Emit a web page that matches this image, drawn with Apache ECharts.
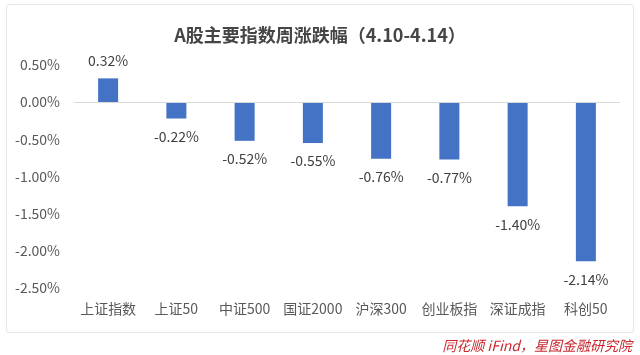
<!DOCTYPE html>
<html>
<head>
<meta charset="utf-8">
<script src="https://cdn.jsdelivr.net/npm/echarts@6/dist/echarts.min.js"></script>
<style>
  html, body { margin: 0; padding: 0; background: #ffffff; }
  #card {
    position: absolute; left: 6px; top: 4px; width: 626px; height: 327px;
    border: 1px solid #e6e6e6; border-radius: 3px; background: #ffffff;
  }
  #chart { position: absolute; left: 0; top: 0; width: 640px; height: 355px; }
</style>
</head>
<body>
<div id="card"></div>
<div id="chart"></div>
<script>
  const categories = ['上证指数', '上证50', '中证500', '国证2000', '沪深300', '创业板指', '深证成指', '科创50']
  const changes = [0.32, -0.22, -0.52, -0.55, -0.76, -0.77, -1.40, -2.14]
  const yTicks = { min: -2.5, max: 0.5, interval: 0.5 }

  const font = '"Microsoft YaHei", "Noto Sans CJK SC", sans-serif'
  const myChart = echarts.init(document.getElementById('chart'))
  myChart.setOption({
    animation: false,
    title: [
      {
        text: 'A股主要指数周涨跌幅（4.10-4.14）',
        left: 'center',
        top: 21,
        textStyle: { fontFamily: font, fontSize: 18, fontWeight: 'bold', color: '#454545' }
      },
      {
        text: '同花顺 iFind，星图金融研究院',
        right: 3,
        top: 334,
        textStyle: { fontFamily: font, fontSize: 14, fontWeight: 'normal', fontStyle: 'italic', color: '#c8282e' }
      }
    ],
    grid: { left: 74, right: 20, top: 65, bottom: 67 },
    xAxis: {
      type: 'category',
      data: categories,
      axisLine: { show: false },
      axisTick: { show: false },
      axisLabel: { margin: 14, fontSize: 14, color: '#595959', fontFamily: font, interval: 0 }
    },
    yAxis: {
      type: 'value',
      min: yTicks.min,
      max: yTicks.max,
      interval: yTicks.interval,
      axisLine: { show: false },
      axisTick: { show: false },
      splitLine: { show: false },
      axisLabel: {
        margin: 14,
        fontSize: 14,
        color: '#595959',
        fontFamily: font,
        formatter: v => v.toFixed(2) + '%'
      }
    },
    series: [
      {
        type: 'bar',
        data: changes.map(v => ({
          value: v,
          label: { position: v >= 0 ? 'top' : 'bottom' }
        })),
        barWidth: 20,
        itemStyle: { color: '#4472c4' },
        label: {
          show: true,
          distance: 11,
          fontSize: 14,
          color: '#404040',
          fontFamily: font,
          formatter: p => p.value.toFixed(2) + '%'
        },
        markLine: {
          silent: true,
          symbol: 'none',
          label: { show: false },
          lineStyle: { color: '#d9d9d9', width: 1, type: 'solid' },
          data: [{ yAxis: 0 }]
        }
      }
    ]
  })
</script>
</body>
</html>
